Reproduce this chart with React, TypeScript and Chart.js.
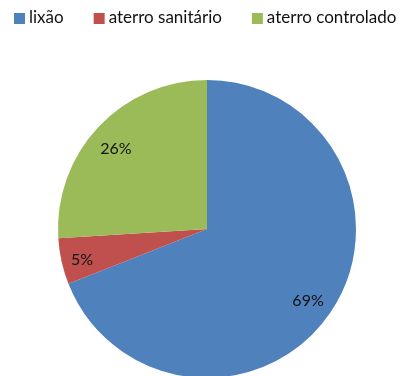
import React, { useEffect, useRef } from "react";
import { Chart, registerables } from "chart.js";

Chart.register(...registerables);

const categories = ["lixão", "aterro sanitário", "aterro controlado"];
const values = [69, 5, 26];
const valueLabels = ["69%", "5%", "26%"];
const colors = ["#4F81BD", "#C0504D", "#9BBB59"];

const FONT = "Lato, 'Open Sans', sans-serif";

const overlayPlugin = {
  id: "overlay",
  afterDraw(chart: any) {
    const ctx = chart.ctx;
    ctx.save();
    // legend
    ctx.font = `17px ${FONT}`;
    ctx.textBaseline = "middle";
    ctx.textAlign = "left";
    let x = 14;
    const y = 18;
    categories.forEach((c, i) => {
      ctx.fillStyle = colors[i];
      ctx.fillRect(x, y - 5, 11, 11);
      ctx.fillStyle = "#111";
      ctx.fillText(c, x + 15, y);
      x += 15 + ctx.measureText(c).width + 30;
    });
    // data labels
    const meta = chart.getDatasetMeta(0);
    ctx.textAlign = "center";
    ctx.font = `16px ${FONT}`;
    ctx.fillStyle = "#111";
    meta.data.forEach((arc: any, i: number) => {
      const { x: cx, y: cy, startAngle, endAngle, outerRadius } = arc.getProps(
        ["x", "y", "startAngle", "endAngle", "outerRadius"],
        true
      );
      const mid = (startAngle + endAngle) / 2;
      const rr = outerRadius * (i === 1 ? 0.86 : 0.82);
      ctx.fillText(valueLabels[i], cx + Math.cos(mid) * rr - (i === 2 ? 2 : 0), cy + Math.sin(mid) * rr + 3);
    });
    ctx.restore();
  },
};

export default function App() {
  const ref = useRef<HTMLCanvasElement | null>(null);
  useEffect(() => {
    document.body.style.margin = "0";
    const chart = new Chart(ref.current!, {
      type: "pie",
      data: {
        labels: categories,
        datasets: [
          {
            data: values,
            backgroundColor: colors,
            borderWidth: 0,
          },
        ],
      },
      options: {
        responsive: false,
        animation: false,
        layout: { padding: { top: 80, left: 58, right: 46, bottom: 0 } },
        plugins: { legend: { display: false }, tooltip: { enabled: false } },
      },
      plugins: [overlayPlugin],
    });
    return () => chart.destroy();
  }, []);
  return (
    <div style={{ width: 402, height: 376, overflow: "hidden", background: "#fff" }}>
      <canvas ref={ref} width={402} height={378} style={{ display: "block" }} />
    </div>
  );
}
